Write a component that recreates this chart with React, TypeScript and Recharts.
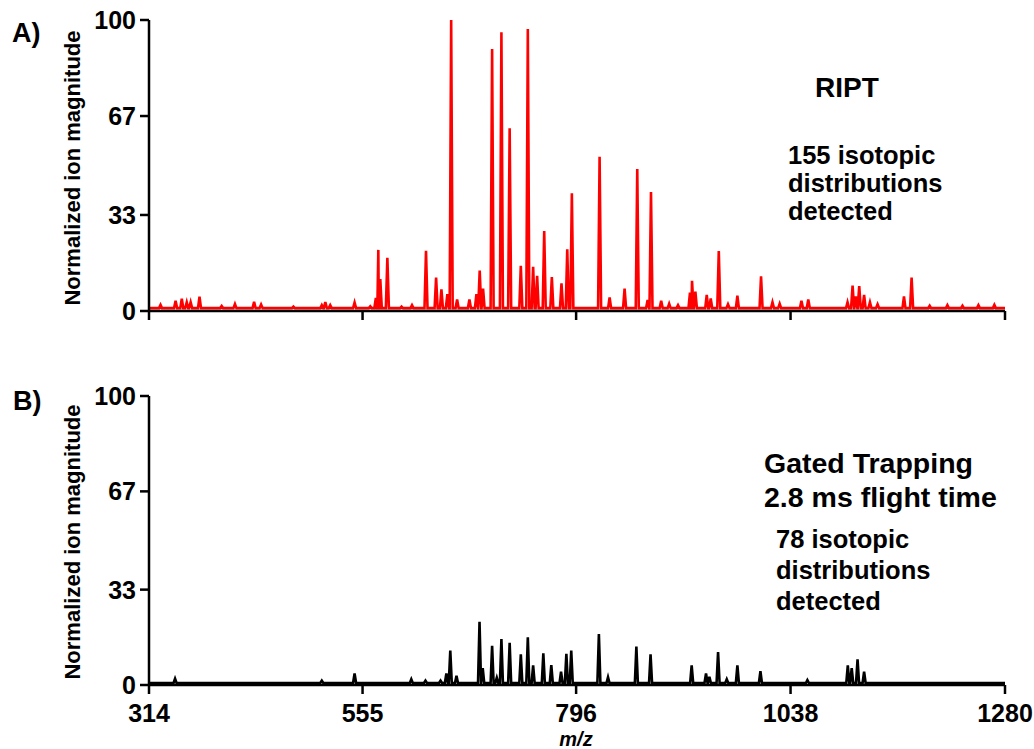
import { Line, LineChart, XAxis, YAxis } from 'recharts';

// m/z axis
const xTicks = [314, 555, 796, 1038, 1280];
const yTicks = [0, 33, 67, 100];

// A) RIPT spectrum peaks [m/z, normalized magnitude]
const ripBase = 1;
const ripPeaks = [
  [327, 2.1], [344, 3.5], [351, 4.2], [356.6, 3], [361, 3], [371, 4.9],
  [396, 1.7], [411, 2.4], [432.6, 3.2], [440.5, 2.2], [477, 1.5], [509, 2],
  [513, 3.1], [518.5, 2], [546, 2.9], [563.7, 1.6], [570, 4.5], [572.8, 21],
  [575, 11], [583, 18.3], [599, 1.5], [610.8, 2], [626.6, 20.7], [638, 11.5],
  [644, 7.4], [650.7, 5.8], [655, 100], [661.7, 4], [675.6, 4], [683.5, 5.8],
  [687.2, 13.9], [691, 7.7], [701.2, 90], [711.7, 95.8], [721, 62.8],
  [733.6, 15.5], [741.5, 96.9], [747.5, 15.2], [752, 12.1], [760, 27.5],
  [768.6, 11.7], [779.5, 9.5], [786, 21.2], [791.2, 40.5], [822.5, 53],
  [833.8, 4.7], [850.7, 7.7], [865, 48.8], [876.7, 3.8], [880.5, 40.9],
  [892, 3.5], [901, 2.5], [911, 2], [924.5, 6.3], [926.8, 10.4], [930.6, 6.7],
  [943.4, 5.5], [947.9, 4.3], [957, 20.6], [967.4, 2.3], [978, 5.3],
  [1004.7, 11.9], [1017.6, 3], [1025.7, 2.5], [1050.3, 3.5], [1058, 4],
  [1102.3, 3], [1108, 8.7], [1111.7, 5], [1115.5, 8.6], [1121, 5.5],
  [1127.6, 3], [1136.2, 2.3], [1166, 5], [1174.6, 11.5], [1195, 1.8],
  [1215, 2], [1232, 1.8], [1250, 2], [1268, 2.1],
];

// B) Gated trapping spectrum peaks
const gateBase = 0.7;
const gatePeaks = [
  [343.4, 2.2], [509, 1.5], [546, 4], [610, 2], [626, 1.5], [643, 1.5],
  [649.6, 4], [654, 11.9], [661, 3.2], [687, 21.9], [690.6, 5.8],
  [701.2, 13.6], [706.5, 2.5], [711.7, 15.9], [721, 14.6], [733.6, 10.6],
  [741.5, 16.5], [747.5, 6.8], [759, 11], [768, 6.9], [779, 4.6], [785, 10.8],
  [790.5, 11.9], [821.7, 17.6], [832, 2.7], [864, 13.3], [880, 10.6],
  [926.4, 6.8], [942.6, 4], [946.4, 2.8], [956.2, 11.4], [966, 2], [978, 6.8],
  [1004, 4.8], [1057, 1.7], [1102.6, 6.8], [1107, 5.8], [1113.6, 8.9],
  [1121, 4.6],
];

const font = "'Liberation Sans', Arial, sans-serif";

function trace(peaks: number[][], base: number) {
  const hw = 1.7;
  const pts = [{ mz: 314, v: base }, { mz: 1280, v: base }];
  peaks.forEach(([mz, h]) => {
    pts.push({ mz: mz - hw, v: base }, { mz, v: h }, { mz: mz + hw, v: base });
  });
  return pts.sort((a, b) => a.mz - b.mz);
}

const tickStyle = { fill: '#000', fontSize: 25, fontWeight: 'bold', fontFamily: font };

type PanelProps = {
  data: { mz: number; v: number }[];
  color: string;
  height: number;
  xHeight: number;
  labels: boolean;
};

const Panel = ({ data, color, height, xHeight, labels }: PanelProps) => (
  <LineChart width={1034} height={height} data={data} margin={{ top: 20, right: 29, left: 0, bottom: 0 }}>
    <XAxis
      type='number'
      dataKey='mz'
      domain={[314, 1280]}
      ticks={xTicks}
      interval={0}
      height={xHeight}
      tickSize={9}
      tickMargin={10}
      axisLine={{ stroke: '#000', strokeWidth: 2.5 }}
      tickLine={{ stroke: '#000', strokeWidth: 2.5 }}
      tick={tickStyle}
      tickFormatter={(v) => (labels ? String(v) : '')}
    />
    <YAxis
      type='number'
      domain={[0, 100]}
      ticks={yTicks}
      interval={0}
      width={149}
      tickSize={9}
      tickMargin={4}
      axisLine={{ stroke: '#000', strokeWidth: 2.5 }}
      tickLine={{ stroke: '#000', strokeWidth: 2.5 }}
      tick={tickStyle}
    />
    <Line type='linear' dataKey='v' stroke={color} strokeWidth={2.6} dot={false} isAnimationActive={false} />
  </LineChart>
);

export default function App() {
  const txt = { fontFamily: font, fontWeight: 'bold', fill: '#000' } as const;
  return (
    <div style={{ position: 'absolute', left: 0, top: 0, width: 1034, height: 749, background: '#fff' }}>
      <div style={{ position: 'absolute', left: 0, top: 0 }}>
        <Panel data={trace(ripPeaks, ripBase)} color='#ff0000' height={340} xHeight={29} labels={false} />
      </div>
      <div style={{ position: 'absolute', left: 0, top: 376 }}>
        <Panel data={trace(gatePeaks, gateBase)} color='#000000' height={373} xHeight={64} labels />
      </div>
      <svg width={1034} height={749} style={{ position: 'absolute', left: 0, top: 0, pointerEvents: 'none' }}>
        <text x={12} y={42} fontSize={27} {...txt}>A)</text>
        <text x={13} y={410} fontSize={27} {...txt}>B)</text>
        <text x={0} y={0} fontSize={22} textAnchor='middle' transform='translate(80,168) rotate(-90)' {...txt}>
          Normalized ion magnitude
        </text>
        <text x={0} y={0} fontSize={22} textAnchor='middle' transform='translate(80,542) rotate(-90)' {...txt}>
          Normalized ion magnitude
        </text>
        <text x={815} y={97} fontSize={28} {...txt}>RIPT</text>
        <text x={788} y={164} fontSize={25.5} {...txt}>155 isotopic</text>
        <text x={788} y={192} fontSize={25.5} {...txt}>distributions</text>
        <text x={788} y={220} fontSize={25.5} {...txt}>detected</text>
        <text x={764} y={473} fontSize={28.5} {...txt}>Gated Trapping</text>
        <text x={764} y={507} fontSize={28.5} {...txt}>2.8 ms flight time</text>
        <text x={776} y={548} fontSize={25.5} {...txt}>78 isotopic</text>
        <text x={776} y={579} fontSize={25.5} {...txt}>distributions</text>
        <text x={776} y={610} fontSize={25.5} {...txt}>detected</text>
        <text x={576} y={746} fontSize={20} textAnchor='middle' fontStyle='italic' {...txt}>m/z</text>
      </svg>
    </div>
  );
}
